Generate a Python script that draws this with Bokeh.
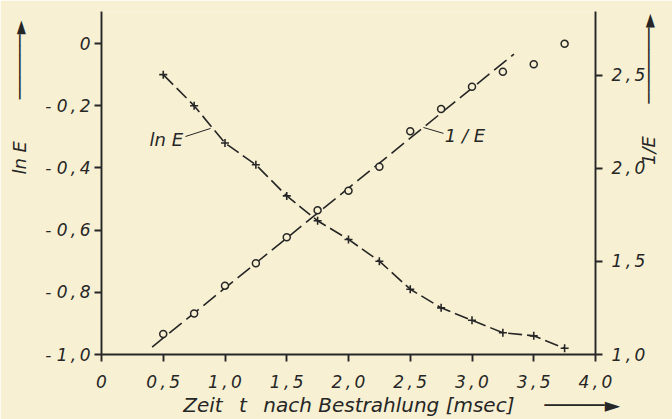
import math
from bokeh.plotting import figure
from bokeh.models import Range1d, LinearAxis, FixedTicker, CustomJSTickFormatter, Label
from bokeh.embed import file_html
from bokeh.resources import INLINE

# ---- data ----
t_vals = [0.5, 0.75, 1.0, 1.25, 1.5, 1.75, 2.0, 2.25, 2.5, 2.75, 3.0, 3.25, 3.5, 3.75]
ln_e = [-0.10, -0.20, -0.32, -0.39, -0.49, -0.57, -0.63, -0.70, -0.79, -0.85, -0.89, -0.93, -0.94, -0.98]
inv_e = [1.11, 1.22, 1.37, 1.49, 1.63, 1.775, 1.88, 2.01, 2.20, 2.32, 2.44, 2.52, 2.56, 2.67]
fit_t = [0.41, 3.34]
fit_inv = [1.04, 2.615]

x_ticks = [0.0, 0.5, 1.0, 1.5, 2.0, 2.5, 3.0, 3.5, 4.0]
left_ticks = [-1.0, -0.8, -0.6, -0.4, -0.2, 0.0]
right_ticks = [1.0, 1.5, 2.0, 2.5]

x_title = "Zeit\u2002 t\u2002 nach Bestrahlung [msec]"
left_title = "ln E"
right_title = "1/E"

BG = "#f7f0d2"
INK = "#262626"
FONT = "DejaVu Sans"
EM = "\u2003"
EN = "\u2002"


def arrow_text(n):
    return "\u2500" * n + "\u25ba"


p = figure(width=672, height=419, output_backend="svg", toolbar_location=None,
           x_range=Range1d(0, 4.0), y_range=Range1d(-1.0, 0.103),
           min_border_left=101, min_border_right=77, min_border_top=11, min_border_bottom=65,
           background_fill_color=BG, border_fill_color=BG)
p.extra_y_ranges = {"inv": Range1d(1.0, 2.844)}
p.outline_line_color = None
p.xgrid.visible = False
p.ygrid.visible = False

fmt = CustomJSTickFormatter(code="""
if (Math.abs(tick) < 1e-9) return "0";
const s = Math.abs(tick).toFixed(1).split(".");
const txt = s[0] + "\\u2009,\\u2009" + s[1];
return tick < 0 ? "- " + txt : txt;
""")


def style_axis(ax, standoff, title, title_standoff, title_size):
    ax.formatter = fmt
    ax.axis_line_color = INK
    ax.axis_line_width = 1.9
    ax.major_tick_line_color = INK
    ax.major_tick_line_width = 1.9
    ax.major_tick_out = 7
    ax.major_tick_in = 0
    ax.minor_tick_line_color = None
    ax.major_label_text_font = FONT
    ax.major_label_text_font_style = "italic"
    ax.major_label_text_font_size = "17px"
    ax.major_label_text_color = INK
    ax.major_label_standoff = standoff
    ax.axis_label = title
    ax.axis_label_standoff = title_standoff
    ax.axis_label_text_font = FONT
    ax.axis_label_text_font_style = "italic"
    ax.axis_label_text_font_size = title_size
    ax.axis_label_text_color = INK


xa = p.xaxis[0]
xa.ticker = FixedTicker(ticks=x_ticks)
style_axis(xa, 10, EM * 5 + " " + x_title + EM + EN + arrow_text(5), -2, "20px")

ya = p.yaxis[0]
ya.ticker = FixedTicker(ticks=left_ticks)
style_axis(ya, 4, EM * 9 + EN + left_title + EM + EM + " " + arrow_text(6), 12, "18px")

ra = LinearAxis(y_range_name="inv", ticker=FixedTicker(ticks=right_ticks))
if hasattr(ra, "axis_label_orientation"):
    style_axis(ra, 9, EM + right_title + EM + EN + " " + arrow_text(7), 0, "18px")
    ra.axis_label_orientation = math.pi / 2
else:
    style_axis(ra, 9, right_title, 0, "18px")
p.add_layout(ra, "right")

# ln E curve
p.line(t_vals, ln_e, line_color=INK, line_width=1.6, line_dash="14 5")
p.scatter(t_vals, ln_e, marker="cross", size=8, line_color=INK, line_width=1.6)

# 1/E fit line and points
p.line(fit_t, fit_inv, y_range_name="inv", line_color=INK, line_width=1.6, line_dash="16 6")
p.scatter(t_vals, inv_e, y_range_name="inv", marker="circle", size=7,
          fill_color=BG, line_color=INK, line_width=1.5)

# curve annotations with leader lines
p.segment(x0=[0.68, 2.607], y0=[-0.299, -0.270], x1=[0.883, 2.769], y1=[-0.273, -0.289],
          line_color=INK, line_width=1.0)
p.add_layout(Label(x=0.66, y=-0.31, text="ln E", text_align="right", text_baseline="middle",
                   text_font=FONT, text_font_style="italic", text_font_size="18px", text_color=INK))
p.add_layout(Label(x=2.78, y=-0.296, text="1 / E", text_align="left", text_baseline="middle",
                   text_font=FONT, text_font_style="italic", text_font_size="18px", text_color=INK))

open("out.html", "w").write(file_html(p, INLINE))
